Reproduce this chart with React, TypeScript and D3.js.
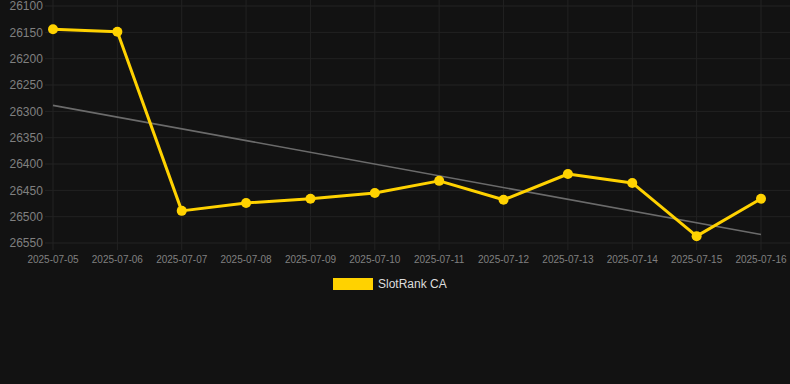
import React from "react";
import * as d3 from "d3";

const dates = ["2025-07-05","2025-07-06","2025-07-07","2025-07-08","2025-07-09","2025-07-10","2025-07-11","2025-07-12","2025-07-13","2025-07-14","2025-07-15","2025-07-16"];
const values = [26144, 26149, 26489, 26474, 26466, 26455, 26432, 26468, 26419, 26436, 26537, 26466];
const yTicks = [26100, 26150, 26200, 26250, 26300, 26350, 26400, 26450, 26500, 26550];
const seriesName = "SlotRank CA";

const W = 790, H = 384;
const FONT = "'Liberation Sans', Arial, Helvetica, sans-serif";

export default function App() {
  const x = d3.scalePoint<string>().domain(dates).range([53, 761]);
  const y = d3.scaleLinear().domain([26100, 26550]).range([6, 243]);

  // linear regression trend
  const n = values.length;
  const xm = (n - 1) / 2;
  const ym = d3.mean(values) as number;
  let sxy = 0, sxx = 0;
  values.forEach((v, i) => { sxy += (i - xm) * (v - ym); sxx += (i - xm) * (i - xm); });
  const slope = sxy / sxx;
  const b = ym - slope * xm;
  const trendStart = b, trendEnd = b + slope * (n - 1);

  const line = d3.line<number>().x((_, i) => x(dates[i]) as number).y((v) => y(v));

  return (
    <div style={{ position: "absolute", left: 0, top: 0, width: W, height: H }}>
      <svg width={W} height={H} style={{ display: "block", background: "#121212" }}>
        <rect x={0} y={0} width={W} height={H} fill="#121212" />
        {yTicks.map((t) => (
          <line key={"h" + t} x1={45} x2={790} y1={y(t)} y2={y(t)} stroke="#222" strokeWidth={1} />
        ))}
        {dates.map((d) => (
          <line key={"v" + d} x1={x(d)} x2={x(d)} y1={0} y2={250} stroke="#222" strokeWidth={1} />
        ))}
        {yTicks.map((t) => (
          <text key={"yt" + t} x={9.5} y={y(t)} dy="0.35em" fill="#808080" fontSize={12} fontFamily={FONT}>{t}</text>
        ))}
        {dates.map((d) => (
          <text key={"xt" + d} x={x(d)} y={259} dy="0.35em" textAnchor="middle" fill="#808080" fontSize={10} fontFamily={FONT}>{d}</text>
        ))}
        <line x1={x(dates[0])} x2={x(dates[n - 1])} y1={y(trendStart)} y2={y(trendEnd)} stroke="#6b6b6b" strokeWidth={1.6} />
        <path d={line(values) as string} fill="none" stroke="#ffd200" strokeWidth={3} strokeLinejoin="round" />
        {values.map((v, i) => (
          <circle key={"p" + i} cx={x(dates[i])} cy={y(v)} r={5} fill="#ffd200" />
        ))}
        <rect x={333} y={278} width={40} height={12} fill="#ffd200" />
        <text x={378} y={284} dy="0.35em" fill="#dddddd" fontSize={12} fontFamily={FONT}>{seriesName}</text>
      </svg>
    </div>
  );
}
